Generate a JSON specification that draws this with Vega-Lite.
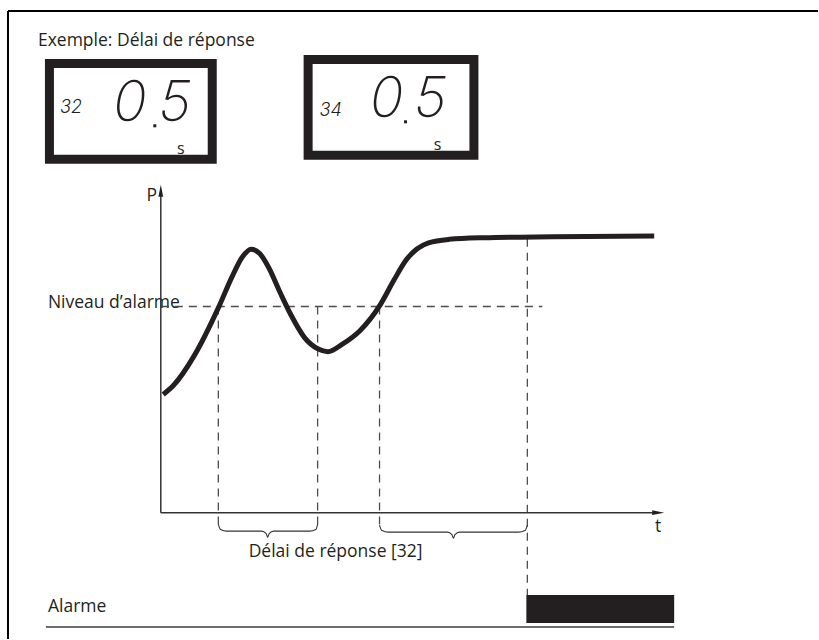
{
  "$schema": "https://vega.github.io/schema/vega-lite/v6.json",
  "width": 819,
  "height": 640,
  "padding": 0,
  "autosize": {"type": "fit", "contains": "padding"},
  "background": "white",
  "view": {"stroke": null},
  "config": {"font": "Open Sans"},
  "datasets": {
    "frame": [
      {"x": 8, "y": 11, "x2": 819, "y2": 11},
      {"x": 8, "y": 11, "x2": 8, "y2": 640}
    ],
    "boxes": [
      {"x": 49.5, "y": 63.5, "x2": 212.5, "y2": 159.5},
      {"x": 308.5, "y": 59.5, "x2": 474.5, "y2": 155.5}
    ],
    "segsmall": [
      {"x": 71, "y": 108, "label": "32"},
      {"x": 331, "y": 111, "label": "34"}
    ],
    "segbig": [
      {"x": 130, "y": 104, "label": "0"},
      {"x": 175, "y": 104, "label": "5"},
      {"x": 387, "y": 100, "label": "0"},
      {"x": 431, "y": 100, "label": "5"}
    ],
    "dots": [
      {"x": 155, "y": 126},
      {"x": 406, "y": 122}
    ],
    "units": [
      {"x": 181, "y": 149, "label": "s"},
      {"x": 438, "y": 145, "label": "s"}
    ],
    "labels": [
      {"x": 38, "y": 46, "label": "Exemple: Délai de réponse"},
      {"x": 48, "y": 308, "label": "Niveau d’alarme"},
      {"x": 48, "y": 613, "label": "Alarme"}
    ],
    "axes": [
      {"x": 161, "y": 191, "x2": 161, "y2": 513.5},
      {"x": 161, "y": 513.5, "x2": 660, "y2": 513.5}
    ],
    "arrowUp": [{"x": 161, "y": 191}],
    "arrowRight": [{"x": 659, "y": 513.5}],
    "axisLabels": [
      {"x": 152, "y": 196, "label": "P"},
      {"x": 659, "y": 528, "label": "t"}
    ],
    "dashes": [
      {"x": 161, "y": 307, "x2": 543, "y2": 307},
      {"x": 218.6, "y": 307, "x2": 218.6, "y2": 528},
      {"x": 318, "y": 307, "x2": 318, "y2": 528},
      {"x": 380, "y": 307, "x2": 380, "y2": 528},
      {"x": 528, "y": 239, "x2": 528, "y2": 596}
    ],
    "curve": [
      {"x": 163.4, "y": 395.1},
      {"x": 173.8, "y": 385.9},
      {"x": 194.5, "y": 356.2},
      {"x": 218.6, "y": 308.4},
      {"x": 232.4, "y": 277.0},
      {"x": 242.8, "y": 257.2},
      {"x": 251.4, "y": 249.6},
      {"x": 260.0, "y": 253.9},
      {"x": 268.6, "y": 267.1},
      {"x": 280.7, "y": 293.5},
      {"x": 291.1, "y": 315.0},
      {"x": 304.9, "y": 338.1},
      {"x": 318.7, "y": 349.6},
      {"x": 328.3, "y": 352.2},
      {"x": 342.8, "y": 344.7},
      {"x": 360.1, "y": 331.5},
      {"x": 380.8, "y": 305.1},
      {"x": 394.6, "y": 280.3},
      {"x": 406.6, "y": 260.5},
      {"x": 429.1, "y": 243.3},
      {"x": 449.8, "y": 239.7},
      {"x": 484.3, "y": 238.1},
      {"x": 553.3, "y": 237.1},
      {"x": 655, "y": 236.4}
    ],
    "braces": [
      {"b": "a", "x": 218.6, "y": 525},
      {"b": "a", "x": 220.5, "y": 530},
      {"b": "a", "x": 227, "y": 532},
      {"b": "a", "x": 262, "y": 532},
      {"b": "a", "x": 266.5, "y": 534.5},
      {"b": "a", "x": 268, "y": 538},
      {"b": "a", "x": 269.5, "y": 534.5},
      {"b": "a", "x": 274, "y": 532},
      {"b": "a", "x": 310, "y": 532},
      {"b": "a", "x": 316.5, "y": 530},
      {"b": "a", "x": 318, "y": 525},
      {"b": "b", "x": 380, "y": 526},
      {"b": "b", "x": 382, "y": 531},
      {"b": "b", "x": 389, "y": 533},
      {"b": "b", "x": 448, "y": 533},
      {"b": "b", "x": 452.5, "y": 535.5},
      {"b": "b", "x": 454, "y": 539},
      {"b": "b", "x": 455.5, "y": 535.5},
      {"b": "b", "x": 460, "y": 533},
      {"b": "b", "x": 519, "y": 533},
      {"b": "b", "x": 526, "y": 531},
      {"b": "b", "x": 528, "y": 526}
    ],
    "braceText": [{"x": 336, "y": 558, "label": "Délai de réponse [32]"}],
    "alarmBar": [{"x": 527, "y": 596, "x2": 675, "y2": 624}],
    "baseLine": [{"x": 46, "y": 628, "x2": 675, "y2": 628}]
  },
  "encoding": {
    "x": {"field": "x", "type": "quantitative", "scale": {"domain": [0, 819], "nice": false, "zero": false}, "axis": null},
    "y": {"field": "y", "type": "quantitative", "scale": {"domain": [0, 640], "nice": false, "zero": false, "reverse": true}, "axis": null}
  },
  "layer": [
    {
      "data": {"name": "frame"},
      "mark": {"type": "rule", "color": "#000", "strokeWidth": 2},
      "encoding": {"x2": {"field": "x2"}, "y2": {"field": "y2"}}
    },
    {
      "data": {"name": "boxes"},
      "mark": {"type": "rect", "fill": "white", "stroke": "#231f20", "strokeWidth": 9},
      "encoding": {"x2": {"field": "x2"}, "y2": {"field": "y2"}}
    },
    {
      "data": {"name": "segsmall"},
      "mark": {"type": "text", "font": "Inter", "fontStyle": "italic", "fontWeight": 300, "fontSize": 18, "color": "#231f20", "align": "center", "baseline": "middle"},
      "encoding": {"text": {"field": "label"}}
    },
    {
      "data": {"name": "segbig"},
      "mark": {"type": "text", "font": "Inter", "fontStyle": "italic", "fontWeight": 200, "fontSize": 56, "color": "#231f20", "align": "center", "baseline": "middle"},
      "encoding": {"text": {"field": "label"}}
    },
    {
      "data": {"name": "dots"},
      "mark": {"type": "point", "shape": "square", "filled": true, "size": 9, "color": "#231f20", "opacity": 1},
      "encoding": {}
    },
    {
      "data": {"name": "units"},
      "mark": {"type": "text", "fontSize": 16, "color": "#231f20", "align": "center", "baseline": "middle"},
      "encoding": {"text": {"field": "label"}}
    },
    {
      "data": {"name": "labels"},
      "mark": {"type": "text", "fontSize": 17.5, "color": "#231f20", "align": "left", "baseline": "alphabetic"},
      "encoding": {"text": {"field": "label"}}
    },
    {
      "data": {"name": "dashes"},
      "mark": {"type": "rule", "color": "#4d4d4d", "strokeWidth": 1.3, "strokeDash": [8, 6]},
      "encoding": {"x2": {"field": "x2"}, "y2": {"field": "y2"}}
    },
    {
      "data": {"name": "axes"},
      "mark": {"type": "rule", "color": "#333", "strokeWidth": 1.5},
      "encoding": {"x2": {"field": "x2"}, "y2": {"field": "y2"}}
    },
    {
      "data": {"name": "arrowUp"},
      "mark": {"type": "point", "shape": "M-0.4,1L0,-1L0.4,1Z", "filled": true, "size": 144, "color": "#231f20", "opacity": 1},
      "encoding": {}
    },
    {
      "data": {"name": "arrowRight"},
      "mark": {"type": "point", "shape": "M-1,-0.4L1,0L-1,0.4Z", "filled": true, "size": 144, "color": "#231f20", "opacity": 1},
      "encoding": {}
    },
    {
      "data": {"name": "axisLabels"},
      "mark": {"type": "text", "fontSize": 17.5, "color": "#231f20", "align": "center", "baseline": "middle"},
      "encoding": {"text": {"field": "label"}}
    },
    {
      "data": {"name": "curve"},
      "mark": {"type": "line", "color": "#231f20", "strokeWidth": 5, "interpolate": "monotone", "strokeCap": "butt"},
      "encoding": {}
    },
    {
      "data": {"name": "braces"},
      "mark": {"type": "line", "color": "#333", "strokeWidth": 1.1, "interpolate": "monotone"},
      "encoding": {"detail": {"field": "b"}}
    },
    {
      "data": {"name": "braceText"},
      "mark": {"type": "text", "fontSize": 17.5, "color": "#231f20", "align": "center", "baseline": "alphabetic"},
      "encoding": {"text": {"field": "label"}}
    },
    {
      "data": {"name": "alarmBar"},
      "mark": {"type": "rect", "color": "#231f20", "opacity": 1},
      "encoding": {"x2": {"field": "x2"}, "y2": {"field": "y2"}}
    },
    {
      "data": {"name": "baseLine"},
      "mark": {"type": "rule", "color": "#6d6d6d", "strokeWidth": 2},
      "encoding": {"x2": {"field": "x2"}, "y2": {"field": "y2"}}
    }
  ]
}
